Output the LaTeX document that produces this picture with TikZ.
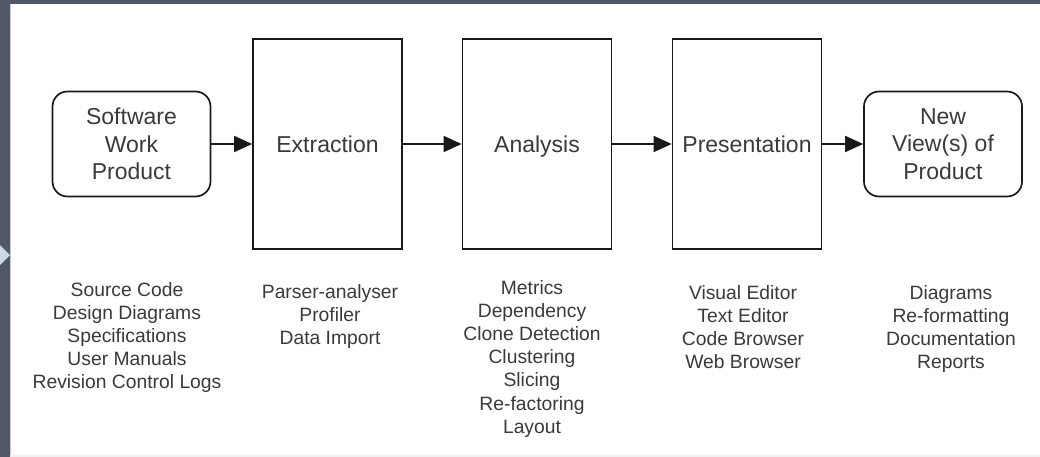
\documentclass[tikz,border=0pt]{standalone}
\usepackage{fontspec}
\setmainfont{Liberation Sans}
\usetikzlibrary{arrows.meta}
\definecolor{frame}{RGB}{82,87,104}
\definecolor{txt}{RGB}{58,58,58}
\definecolor{ln}{RGB}{25,25,25}
\definecolor{chev}{RGB}{205,214,232}
\tikzset{
  stage/.style={draw=ln, line width=1.7pt, fill=white, rectangle, minimum width=149pt, minimum height=210pt, inner sep=0pt, text height=16.5pt, text depth=0pt, text=txt, font=\fontsize{23}{27.6}\selectfont},
  endbox/.style={draw=ln, line width=1.7pt, fill=white, rectangle, rounded corners=15pt, minimum width=158pt, minimum height=105pt, inner sep=0pt, align=center, text=txt, font=\fontsize{23}{27.6}\selectfont},
  listing/.style={anchor=north, align=center, inner sep=0pt, text=txt, font=\fontsize{19.3}{23.2}\selectfont},
  arr/.style={draw=ln, line width=1.7pt, -{Triangle[length=18pt,width=16pt]}}
}
\begin{document}
\begin{tikzpicture}[x=1pt,y=-1pt]
\useasboundingbox (0,0) rectangle (1040,457);
\fill[frame] (0,0) rectangle (1040,457);
\fill[white] (10,4) rectangle (1040,455);
\fill[gray!12] (10,455) rectangle (1040,457);
\draw[gray!40, line width=0.8pt] (10,4) -- (10,455);
\fill[chev] (0,245) -- (10,255) -- (0,265) -- cycle;

\node[endbox] (swp) at (131.5,144) {Software\\Work\\Product};
\node[stage] (ext) at (327.5,144) {Extraction};
\node[stage] (ana) at (537,144) {Analysis};
\node[stage] (pre) at (747,144) {Presentation};
\node[endbox] (nvp) at (943,144) {New\\View(s) of\\Product};

\draw[arr] (swp) -- (ext);
\draw[arr] (ext) -- (ana);
\draw[arr] (ana) -- (pre);
\draw[arr] (pre) -- (nvp);

\node[listing] (l1) at (127,282) {Source Code\\Design Diagrams\\Specifications\\User Manuals\\Revision Control Logs};
\node[listing] (l2) at (330,284) {Parser-analyser\\Profiler\\Data Import};
\node[listing] (l3) at (532,280) {Metrics\\Dependency\\Clone Detection\\Clustering\\Slicing\\Re-factoring\\Layout};
\node[listing] (l4) at (743,285) {Visual Editor\\Text Editor\\Code Browser\\Web Browser};
\node[listing] (l5) at (951,285) {Diagrams\\Re-formatting\\Documentation\\Reports};
\end{tikzpicture}
\end{document}
